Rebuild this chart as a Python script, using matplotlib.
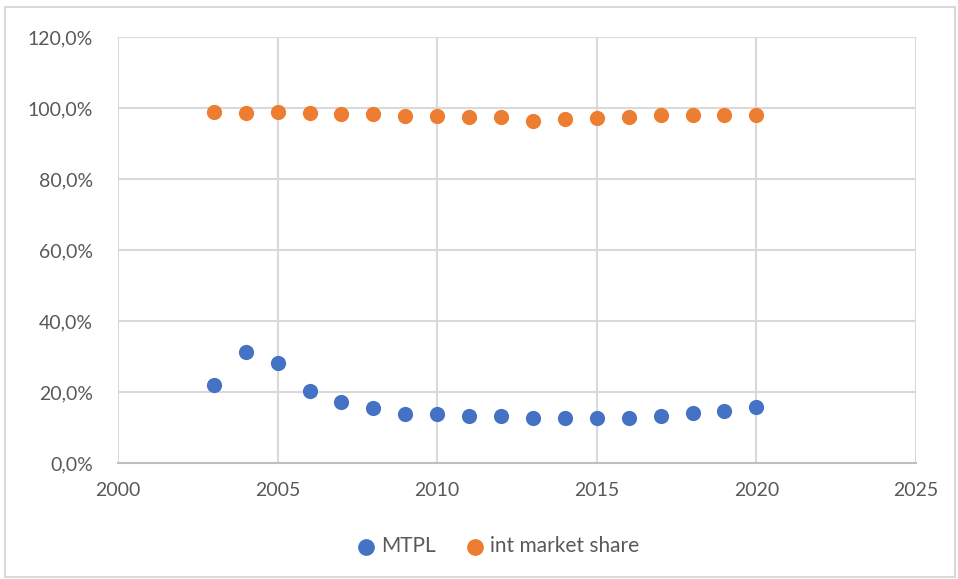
import numpy as np
import matplotlib
matplotlib.use("Agg")
import matplotlib.pyplot as plt
from matplotlib.ticker import FuncFormatter, MultipleLocator
from matplotlib.patches import Rectangle

years = [2003, 2004, 2005, 2006, 2007, 2008, 2009, 2010, 2011,
         2012, 2013, 2014, 2015, 2016, 2017, 2018, 2019, 2020]
mtpl = [22.1, 31.4, 28.2, 20.2, 17.3, 15.5, 13.8, 13.8, 13.3,
        13.3, 12.6, 12.6, 12.6, 12.6, 13.3, 14.0, 14.7, 15.9]
int_share = [99.0, 98.7, 99.0, 98.7, 98.3, 98.3, 97.8, 97.8, 97.5,
             97.5, 96.4, 96.8, 97.2, 97.5, 97.9, 97.9, 97.9, 97.9]

plt.rcParams['font.family'] = ['Lato', 'DejaVu Sans']
txt = '#595959'
grid = '#d9d9d9'

fig = plt.figure(figsize=(9.58, 5.79), dpi=100)
ax = fig.add_axes([118/958, 116/579, 798/958, 426/579])

ax.scatter(years, mtpl, s=120, color='#4472c4', label='MTPL', zorder=3, linewidths=0)
ax.scatter(years, int_share, s=120, color='#ed7d31', label='int market share', zorder=3, linewidths=0)

ax.set_xlim(2000, 2025)
ax.set_ylim(0, 120)
ax.xaxis.set_major_locator(MultipleLocator(5))
ax.yaxis.set_major_locator(MultipleLocator(20))
ax.yaxis.set_major_formatter(FuncFormatter(lambda v, p: f"{v:.1f}%".replace('.', ',')))
ax.grid(True, color=grid, linewidth=1.5, zorder=0)
ax.set_axisbelow(True)
for s in ['top', 'right', 'left']:
    ax.spines[s].set_visible(False)
ax.spines['bottom'].set_color('#bfbfbf')
ax.spines['bottom'].set_linewidth(1.5)
ax.tick_params(length=0, labelsize=14, colors=txt)
ax.tick_params(axis='x', pad=14)
ax.tick_params(axis='y', pad=18)

ax.legend(loc='center', bbox_to_anchor=(492/958, 1 - 546/579), bbox_transform=fig.transFigure,
          ncol=2, frameon=False, fontsize=15, labelcolor=txt, handletextpad=-0.3,
          columnspacing=0.9, markerscale=1.1)

fig.patches.append(Rectangle((5/958, 2/579), 950/958, 570/579, transform=fig.transFigure,
                             fill=False, edgecolor='#d9d9d9', linewidth=1.5))

fig.savefig('out.png', dpi=100, facecolor='white')
